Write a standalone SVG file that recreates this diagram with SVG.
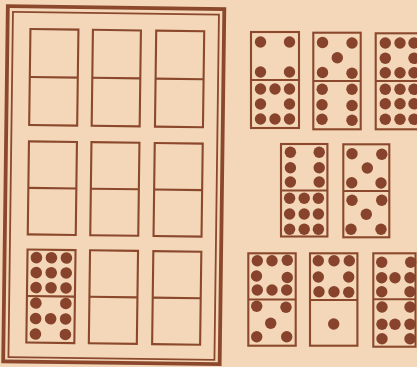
<svg xmlns="http://www.w3.org/2000/svg" width="417" height="367" viewBox="0 0 417 367">
<style>
.bg{fill:#f3d7b8}
.thick{fill:none;stroke:#8b482d;stroke-width:3.8}
.thin{fill:none;stroke:#8b482d;stroke-width:1.8}
.dom{fill:none;stroke:#8b482d;stroke-width:2.1}
.pip{fill:#87432b}
</style>
<rect class="bg" x="0" y="0" width="417" height="367"/>
<g id="board" transform="rotate(0.75 115 185)">
  <rect class="thick" x="5.5" y="7.6" width="216.5" height="355.1"/>
  <rect class="thin" x="10.7" y="13.2" width="206" height="345.3"/>
  <g id="slot-1" transform="translate(52.4 78.1)"><rect class="dom" x="-24" y="-48" width="48" height="96"/><line class="dom" x1="-24" y1="0" x2="24" y2="0"/></g>
  <g id="slot-2" transform="translate(114.9 78.1)"><rect class="dom" x="-24" y="-48" width="48" height="96"/><line class="dom" x1="-24" y1="0" x2="24" y2="0"/></g>
  <g id="slot-3" transform="translate(178.2 78.1)"><rect class="dom" x="-24" y="-48" width="48" height="96"/><line class="dom" x1="-24" y1="0" x2="24" y2="0"/></g>
  <g id="slot-4" transform="translate(52.4 189)"><rect class="dom" x="-24" y="-46.5" width="48" height="93"/><line class="dom" x1="-24" y1="0" x2="24" y2="0"/></g>
  <g id="slot-5" transform="translate(114.9 189)"><rect class="dom" x="-24" y="-46.5" width="48" height="93"/><line class="dom" x1="-24" y1="0" x2="24" y2="0"/></g>
  <g id="slot-6" transform="translate(178.2 189)"><rect class="dom" x="-24" y="-46.5" width="48" height="93"/><line class="dom" x1="-24" y1="0" x2="24" y2="0"/></g>
  <g id="slot-7" transform="translate(52.4 297.1)"><rect class="dom" x="-24" y="-46.5" width="48" height="93"/><line class="dom" x1="-24" y1="0" x2="24" y2="0"/>
    <circle class="pip" cx="-15" cy="-38.5" r="5.8"/><circle class="pip" cx="0" cy="-38.5" r="5.8"/><circle class="pip" cx="15" cy="-38.5" r="5.8"/>
    <circle class="pip" cx="-15" cy="-23.5" r="5.8"/><circle class="pip" cx="0" cy="-23.5" r="5.8"/><circle class="pip" cx="15" cy="-23.5" r="5.8"/>
    <circle class="pip" cx="-15" cy="-8.5" r="5.8"/><circle class="pip" cx="0" cy="-8.5" r="5.8"/><circle class="pip" cx="15" cy="-8.5" r="5.8"/>
    <circle class="pip" cx="-15" cy="7" r="5.8"/><circle class="pip" cx="15" cy="7" r="5.8"/>
    <circle class="pip" cx="-15" cy="22.5" r="5.8"/><circle class="pip" cx="0" cy="22.5" r="5.8"/><circle class="pip" cx="15" cy="22.5" r="5.8"/>
    <circle class="pip" cx="-15" cy="38" r="5.8"/><circle class="pip" cx="15" cy="38" r="5.8"/>
  </g>
  <g id="slot-8" transform="translate(114.9 297.1)"><rect class="dom" x="-24" y="-46.5" width="48" height="93"/><line class="dom" x1="-24" y1="0" x2="24" y2="0"/></g>
  <g id="slot-9" transform="translate(178.2 297.1)"><rect class="dom" x="-24" y="-46.5" width="48" height="93"/><line class="dom" x1="-24" y1="0" x2="24" y2="0"/></g>
</g>
<g id="tile-4-8" transform="translate(275 80)"><rect class="dom" x="-24" y="-48" width="48" height="96"/><line class="dom" x1="-24" y1="0" x2="24" y2="0"/>
  <circle class="pip" cx="-14.5" cy="-38" r="5.7"/><circle class="pip" cx="14.5" cy="-38" r="5.7"/>
  <circle class="pip" cx="-14.5" cy="-8" r="5.7"/><circle class="pip" cx="14.5" cy="-8" r="5.7"/>
  <circle class="pip" cx="-14.5" cy="9" r="5.7"/><circle class="pip" cx="0" cy="9" r="5.7"/><circle class="pip" cx="14.5" cy="9" r="5.7"/>
  <circle class="pip" cx="-14.5" cy="24" r="5.7"/><circle class="pip" cx="14.5" cy="24" r="5.7"/>
  <circle class="pip" cx="-14.5" cy="39" r="5.7"/><circle class="pip" cx="0" cy="39" r="5.7"/><circle class="pip" cx="14.5" cy="39" r="5.7"/>
</g>
<g id="tile-5-6" transform="translate(337 81)"><rect class="dom" x="-23.7" y="-48.3" width="47.4" height="96.6"/><line class="dom" x1="-23.7" y1="0" x2="23.7" y2="0"/>
  <circle class="pip" cx="-14.5" cy="-38.5" r="5.7"/><circle class="pip" cx="15" cy="-38" r="5.7"/>
  <circle class="pip" cx="0.3" cy="-23.3" r="5.7"/>
  <circle class="pip" cx="-14.5" cy="-8.5" r="5.7"/><circle class="pip" cx="15" cy="-7.8" r="5.7"/>
  <circle class="pip" cx="-14.8" cy="8.3" r="5.7"/><circle class="pip" cx="15" cy="8.3" r="5.7"/>
  <circle class="pip" cx="-15" cy="23.8" r="5.7"/><circle class="pip" cx="15" cy="24.5" r="5.7"/>
  <circle class="pip" cx="-15" cy="38.2" r="5.7"/><circle class="pip" cx="15" cy="39.2" r="5.7"/>
</g>
<g id="tile-8-9" transform="translate(400 81)"><rect class="dom" x="-24.3" y="-47.7" width="48" height="96"/><line class="dom" x1="-24.3" y1="0" x2="24" y2="0"/>
  <circle class="pip" cx="-14.7" cy="-38" r="5.7"/><circle class="pip" cx="0" cy="-38" r="5.7"/><circle class="pip" cx="14" cy="-38" r="5.7"/>
  <circle class="pip" cx="-14.7" cy="-22.7" r="5.7"/><circle class="pip" cx="14" cy="-22.7" r="5.7"/>
  <circle class="pip" cx="-14.7" cy="-8.3" r="5.7"/><circle class="pip" cx="0" cy="-8.3" r="5.7"/><circle class="pip" cx="14" cy="-8.3" r="5.7"/>
  <circle class="pip" cx="-14.7" cy="8.3" r="5.7"/><circle class="pip" cx="0" cy="8.3" r="5.7"/><circle class="pip" cx="14" cy="8.3" r="5.7"/>
  <circle class="pip" cx="-14.7" cy="22.8" r="5.7"/><circle class="pip" cx="0" cy="22.8" r="5.7"/><circle class="pip" cx="14" cy="22.8" r="5.7"/>
  <circle class="pip" cx="-14.7" cy="38.3" r="5.7"/><circle class="pip" cx="0" cy="38.3" r="5.7"/><circle class="pip" cx="14" cy="38.3" r="5.7"/>
</g>
<g id="tile-6-9" transform="translate(304.2 190.5)"><rect class="dom" x="-23.2" y="-46.5" width="46.4" height="92.5"/><line class="dom" x1="-23.2" y1="0" x2="23.2" y2="0"/>
  <circle class="pip" cx="-13.8" cy="-38.2" r="5.7"/><circle class="pip" cx="15" cy="-38.2" r="5.7"/>
  <circle class="pip" cx="-13.8" cy="-22.8" r="5.7"/><circle class="pip" cx="15" cy="-22.8" r="5.7"/>
  <circle class="pip" cx="-13.8" cy="-8.5" r="5.7"/><circle class="pip" cx="15" cy="-8.5" r="5.7"/>
  <circle class="pip" cx="-14.6" cy="7.8" r="5.7"/><circle class="pip" cx="0" cy="7.8" r="5.7"/><circle class="pip" cx="14.2" cy="7.8" r="5.7"/>
  <circle class="pip" cx="-14.6" cy="23.5" r="5.7"/><circle class="pip" cx="0" cy="23.5" r="5.7"/><circle class="pip" cx="14.2" cy="23.5" r="5.7"/>
  <circle class="pip" cx="-14.6" cy="38.8" r="5.7"/><circle class="pip" cx="0" cy="38.8" r="5.7"/><circle class="pip" cx="14.2" cy="38.8" r="5.7"/>
</g>
<g id="tile-5-5" transform="translate(366.3 191)"><rect class="dom" x="-23" y="-46.7" width="46" height="93"/><line class="dom" x1="-23" y1="0" x2="23" y2="0"/>
  <circle class="pip" cx="-14.3" cy="-37.3" r="5.7"/><circle class="pip" cx="15.5" cy="-36.8" r="5.7"/>
  <circle class="pip" cx="1" cy="-23" r="5.7"/>
  <circle class="pip" cx="-14.6" cy="-8.3" r="5.7"/><circle class="pip" cx="14.7" cy="-8" r="5.7"/>
  <circle class="pip" cx="-14.3" cy="9.3" r="5.7"/><circle class="pip" cx="15.4" cy="9.3" r="5.7"/>
  <circle class="pip" cx="0" cy="23.3" r="5.7"/>
  <circle class="pip" cx="-15.3" cy="38.3" r="5.7"/><circle class="pip" cx="14.7" cy="38.3" r="5.7"/>
</g>
<g id="tile-8-5" transform="translate(272 299.5)"><rect class="dom" x="-23.7" y="-46.2" width="47.4" height="92.4"/><line class="dom" x1="-23.7" y1="0" x2="23.7" y2="0"/>
  <circle class="pip" cx="-14.7" cy="-38.8" r="5.7"/><circle class="pip" cx="0" cy="-38.8" r="5.7"/><circle class="pip" cx="15.3" cy="-39.3" r="5.7"/>
  <circle class="pip" cx="-15.5" cy="-23.5" r="5.7"/><circle class="pip" cx="15.3" cy="-22" r="5.7"/>
  <circle class="pip" cx="-14.7" cy="-9.5" r="5.7"/><circle class="pip" cx="0" cy="-9.5" r="5.7"/><circle class="pip" cx="14.7" cy="-9.5" r="5.7"/>
  <circle class="pip" cx="-15.3" cy="6.8" r="5.7"/><circle class="pip" cx="14" cy="7.8" r="5.7"/>
  <circle class="pip" cx="-1.3" cy="23.8" r="5.7"/>
  <circle class="pip" cx="-15.3" cy="37.2" r="5.7"/><circle class="pip" cx="14.7" cy="37.2" r="5.7"/>
</g>
<g id="tile-8-1" transform="translate(333.7 299.5)"><rect class="dom" x="-23.7" y="-46.2" width="47.4" height="92.4"/><line class="dom" x1="-23.7" y1="0.5" x2="23.7" y2="0.5"/>
  <circle class="pip" cx="-15.4" cy="-38.8" r="5.7"/><circle class="pip" cx="0.3" cy="-38.8" r="5.7"/><circle class="pip" cx="15.6" cy="-38.8" r="5.7"/>
  <circle class="pip" cx="-15.4" cy="-22.5" r="5.7"/><circle class="pip" cx="15" cy="-22.5" r="5.7"/>
  <circle class="pip" cx="-14.7" cy="-7.8" r="5.7"/><circle class="pip" cx="0.3" cy="-7.8" r="5.7"/><circle class="pip" cx="15" cy="-7.3" r="5.7"/>
  <circle class="pip" cx="0" cy="24.5" r="5.7"/>
</g>
<g id="tile-7-7" transform="translate(396 300)"><rect class="dom" x="-22.7" y="-46.7" width="42.2" height="93.4"/><line class="dom" x1="-22.7" y1="-0.7" x2="19.5" y2="-0.7"/>
  <circle class="pip" cx="-14.3" cy="-37.7" r="5.7"/><circle class="pip" cx="14.7" cy="-37.7" r="5.7"/>
  <circle class="pip" cx="-14.3" cy="-22.3" r="5.7"/><circle class="pip" cx="-1" cy="-22.3" r="5.7"/><circle class="pip" cx="14" cy="-22.3" r="5.7"/>
  <circle class="pip" cx="-14.3" cy="-8.3" r="5.7"/><circle class="pip" cx="14" cy="-8.3" r="5.7"/>
  <circle class="pip" cx="-14" cy="7" r="5.7"/><circle class="pip" cx="14" cy="7" r="5.7"/>
  <circle class="pip" cx="-14" cy="24.3" r="5.7"/><circle class="pip" cx="-1" cy="24.3" r="5.7"/><circle class="pip" cx="14" cy="24.3" r="5.7"/>
  <circle class="pip" cx="-14" cy="38.7" r="5.7"/><circle class="pip" cx="14" cy="38.7" r="5.7"/>
</g>
<g id="connectors"/>
</svg>
